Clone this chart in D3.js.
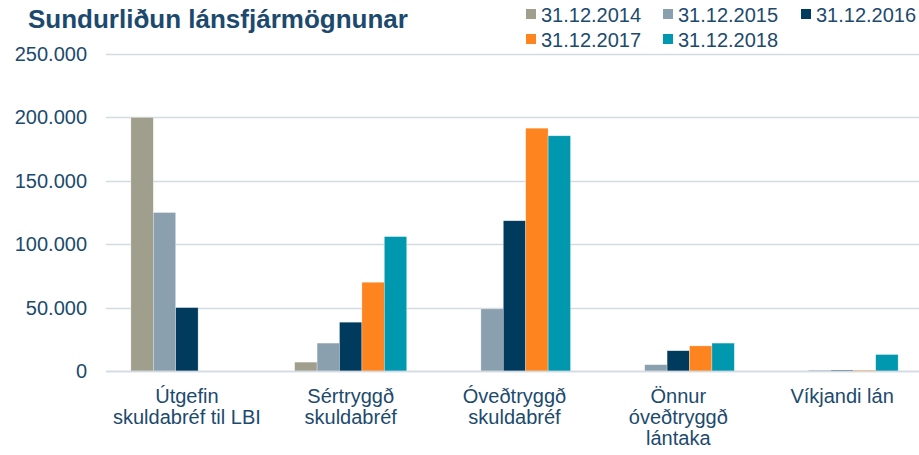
<!DOCTYPE html>
<html>
<head>
<meta charset="utf-8">
<script src="https://cdn.jsdelivr.net/npm/d3@7"></script>
<style>
  html, body { margin: 0; padding: 0; background: #fff; }
  svg { display: block; font-family: Arial, "Liberation Sans", sans-serif; }
</style>
</head>
<body>
<svg id="chart" width="919" height="455"></svg>
<script>
// Loan funding breakdown by year-end, in ISK millions
const categories = [
  ["Útgefin", "skuldabréf til LBI"],
  ["Sértryggð", "skuldabréf"],
  ["Óveðtryggð", "skuldabréf"],
  ["Önnur", "óveðtryggð", "lántaka"],
  ["Víkjandi lán"]
];
const seriesNames = ["31.12.2014", "31.12.2015", "31.12.2016", "31.12.2017", "31.12.2018"];
const values2014 = [200000, 7000, 0, 0, 0];
const values2015 = [125000, 22000, 49000, 5000, 700];
const values2016 = [50000, 38500, 118500, 16000, 700];
const values2017 = [0, 70000, 191500, 19800, 700];
const values2018 = [0, 106000, 185500, 22000, 13000];
const yTicks = [0, 50000, 100000, 150000, 200000, 250000];
const colors = ["#A09F8E", "#8AA0AF", "#003A5C", "#FD841E", "#0098AF"];

const seriesValues = [values2014, values2015, values2016, values2017, values2018];
const textColor = "#1C4A6E";
const gridColor = "#D3DAE1";

const svg = d3.select("#chart");
const catIdx = d3.range(categories.length);

const x0 = d3.scaleBand().domain(catIdx).range([105, 924])
  .paddingInner(0.316).paddingOuter(0.158);
const x1 = d3.scaleBand().domain(d3.range(seriesNames.length)).range([0, x0.bandwidth()]);
const y = d3.scaleLinear().domain([0, 250000]).range([371, 54]);

// Title
svg.append("text")
  .attr("x", 28).attr("y", 28)
  .attr("font-size", 26).attr("font-weight", "bold")
  .attr("fill", textColor)
  .text("Sundurliðun lánsfjármögnunar");

// Gridlines
svg.append("g").selectAll("line").data(yTicks).join("line")
  .attr("x1", 106).attr("x2", 919)
  .attr("y1", d => Math.round(y(d)) + 0.5).attr("y2", d => Math.round(y(d)) + 0.5)
  .attr("stroke", gridColor).attr("stroke-width", 1.5);

// Y axis labels
const yAxis = d3.axisLeft(y).tickValues(yTicks).tickSize(0).tickPadding(0)
  .tickFormat(d => d3.format(",")(d).replace(/,/g, "."));
const gy = svg.append("g").attr("transform", "translate(87,0)").call(yAxis);
gy.select(".domain").remove();
gy.selectAll("text").attr("font-size", 20).attr("fill", textColor)
  .attr("font-family", "Arial, 'Liberation Sans', sans-serif");

// Bars
const groups = svg.append("g").selectAll("g").data(catIdx).join("g")
  .attr("transform", i => `translate(${x0(i)},0)`);
groups.selectAll("rect")
  .data(i => seriesValues.map((vals, s) => ({ s, v: vals[i] })))
  .join("rect")
  .attr("x", d => x1(d.s))
  .attr("width", x1.bandwidth())
  .attr("y", d => y(d.v))
  .attr("height", d => y(0) - y(d.v))
  .attr("fill", d => colors[d.s])
  .attr("stroke", "#fff").attr("stroke-opacity", 0.5).attr("stroke-width", 0.6);

// Baseline
svg.append("line")
  .attr("x1", 106).attr("x2", 919).attr("y1", 371.5).attr("y2", 371.5)
  .attr("stroke", gridColor).attr("stroke-width", 1.5);

// Category labels
svg.append("g").selectAll("text").data(catIdx).join("text")
  .attr("text-anchor", "middle")
  .attr("font-size", 20).attr("fill", textColor)
  .each(function (i) {
    const cx = x0(i) + x0.bandwidth() / 2;
    d3.select(this).selectAll("tspan").data(categories[i]).join("tspan")
      .attr("x", cx).attr("y", (d, k) => 403 + k * 21)
      .text(d => d);
  });

// Legend
const legendPos = [[526, 0], [663, 0], [801, 0], [526, 1], [663, 1]];
const leg = svg.append("g").selectAll("g").data(seriesNames).join("g")
  .attr("transform", (d, i) => `translate(${legendPos[i][0]},${legendPos[i][1] * 25})`);
leg.append("rect").attr("x", 0).attr("y", 9).attr("width", 10).attr("height", 10)
  .attr("fill", (d, i) => colors[i]);
leg.append("text").attr("x", 15).attr("y", 21.5)
  .attr("font-size", 20).attr("fill", textColor).text(d => d);
</script>
</body>
</html>
